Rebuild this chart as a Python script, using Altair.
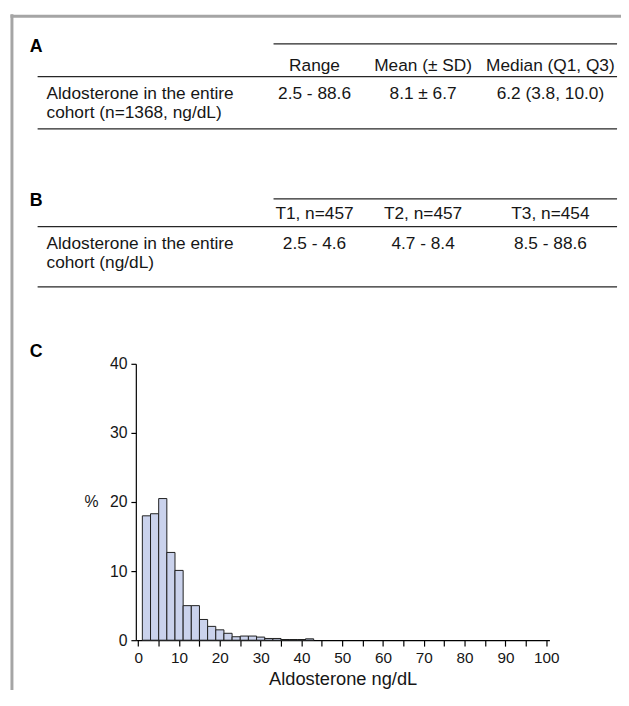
import altair as alt
import pandas as pd

# ---------------- data ----------------
bin_start = [1, 3, 5, 7, 9, 11, 13, 15, 17, 19, 21, 23, 25, 27, 29, 31, 33, 35, 37, 39, 41]
bin_end = [3, 5, 7, 9, 11, 13, 15, 17, 19, 21, 23, 25, 27, 29, 31, 33, 35, 37, 39, 41, 43]
percent = [18.0, 18.3, 20.5, 12.7, 10.1, 5.0, 5.0, 3.0, 2.0, 1.5, 1.0,
           0.5, 0.6, 0.6, 0.45, 0.25, 0.25, 0.1, 0.1, 0.1, 0.2]

x_ticks = list(range(0, 101, 5))
y_ticks = [0, 10, 20, 30, 40]

panel_letters = ["A", "B", "C"]
table_a_header = ["Range", "Mean (± SD)", "Median (Q1, Q3)"]
table_a_values = ["2.5 - 88.6", "8.1 ± 6.7", "6.2 (3.8, 10.0)"]
table_a_rowlabel = ["Aldosterone in the entire", "cohort (n=1368, ng/dL)"]
table_b_header = ["T1, n=457", "T2, n=457", "T3, n=454"]
table_b_values = ["2.5 - 4.6", "4.7 - 8.4", "8.5 - 88.6"]
table_b_rowlabel = ["Aldosterone in the entire", "cohort (ng/dL)"]

# ---------------- layout (pixels, plot coordinates) ----------------
W, H = 419, 280
PAD = {"left": 129.5, "top": 356, "right": 72.5, "bottom": 46}
ROW_Y = [-302, -273, -254, -152, -121, -102]     # A head, A r1, A r2, B head, B r1, B r2
COL_X = [181, 291, 420]
LETTER_Y = [-321, -165, -12]
TEXT_FONT = 17.5
INK = "#161616"

hist = pd.DataFrame({"start": bin_start, "end": bin_end, "pct": percent})

cells = pd.DataFrame(
    [{"row": 0, "col": i + 1, "text": t} for i, t in enumerate(table_a_header)]
    + [{"row": 1, "col": i + 1, "text": t} for i, t in enumerate(table_a_values)]
    + [{"row": 3, "col": i + 1, "text": t} for i, t in enumerate(table_b_header)]
    + [{"row": 4, "col": i + 1, "text": t} for i, t in enumerate(table_b_values)]
)
row_labels = pd.DataFrame(
    [{"row": 1 + i, "text": t} for i, t in enumerate(table_a_rowlabel)]
    + [{"row": 4 + i, "text": t} for i, t in enumerate(table_b_rowlabel)]
)
letters = pd.DataFrame({"idx": list(range(len(panel_letters))), "text": panel_letters})

row_scale = alt.Scale(domain=list(range(6)), range=ROW_Y, zero=False, nice=False)
col_scale = alt.Scale(domain=[1, 2, 3], range=COL_X, zero=False, nice=False)
one = pd.DataFrame({"k": [0]})


def hline(y, x1, x2, color="#262626", width=1.3):
    return alt.Chart(one).mark_rule(color=color, strokeWidth=width).encode(
        x=alt.value(x1), x2=alt.value(x2), y=alt.value(y))


def vline(x, y1, y2, color, width):
    return alt.Chart(one).mark_rule(color=color, strokeWidth=width).encode(
        x=alt.value(x), y=alt.value(y1), y2=alt.value(y2))


frame = [
    vline(-125.5, -354, 335, "#a5a5a5", 3),
    hline(-352, -127, 492, "#a5a5a5", 3),
]

table_lines = [
    hline(-324, 139.5, 487.5), hline(-291, -99.5, 487.5), hline(-238, -99.5, 487.5),
    hline(-167, 139.5, 487.5), hline(-139, -99.5, 487.5), hline(-78, -99.5, 487.5),
]

cell_text = alt.Chart(cells).mark_text(
    align="center", baseline="middle", fontSize=TEXT_FONT, color=INK
).encode(
    x=alt.X("col:Q", scale=col_scale, axis=None),
    y=alt.Y("row:Q", scale=row_scale, axis=None),
    text="text:N",
)

label_text = alt.Chart(row_labels).mark_text(
    align="left", baseline="middle", fontSize=TEXT_FONT, color=INK
).encode(
    x=alt.value(-90.5),
    y=alt.Y("row:Q", scale=row_scale, axis=None),
    text="text:N",
)

letter_text = alt.Chart(letters).mark_text(
    align="left", baseline="middle", fontSize=18, fontWeight="bold", color="#000"
).encode(
    x=alt.value(-107.5),
    y=alt.Y("idx:Q", scale=alt.Scale(domain=[0, 1, 2], range=LETTER_Y, zero=False, nice=False), axis=None),
    text="text:N",
)

bars = alt.Chart(hist).mark_bar(fill="#cad2ec", stroke="#1e1e1e", strokeWidth=1).encode(
    x=alt.X(
        "start:Q",
        scale=alt.Scale(domain=[-0.6, 100.8], nice=False, zero=False),
        axis=alt.Axis(
            values=x_ticks,
            labelExpr="datum.value % 10 == 0 ? datum.label : ''",
            tickSize=6, labelPadding=5, labelFontSize=15.5, labelFlush=False, labelOverlap=False,
            title="Aldosterone ng/dL", titleFontSize=18.5, titleFontWeight="normal",
            titleY=39, titleBaseline="middle",
        ),
    ),
    x2="end:Q",
    y=alt.Y(
        "pct:Q",
        scale=alt.Scale(domain=[0, 40], nice=False),
        axis=alt.Axis(
            values=y_ticks, tickSize=5, labelPadding=4, labelFontSize=16,
            title="%", titleAngle=0, titleX=-45.5, titleY=140,
            titleAlign="center", titleBaseline="middle",
            titleFontSize=16, titleFontWeight="normal",
        ),
    ),
    y2=alt.datum(0),
)

chart = alt.layer(
    *frame, *table_lines, cell_text, label_text, letter_text, bars
).resolve_scale(
    x="independent", y="independent"
).properties(
    width=W, height=H, autosize=alt.AutoSizeParams(type="none"), padding=PAD
).configure(
    font="Liberation Sans"
).configure_view(
    stroke="transparent", strokeWidth=0
).configure_axis(
    domainColor="black", tickColor="black", labelColor=INK, titleColor=INK,
    grid=False, domainWidth=1.2, tickWidth=1.2,
)

chart.save("out.html", embed_options={"renderer": "svg", "actions": False})
